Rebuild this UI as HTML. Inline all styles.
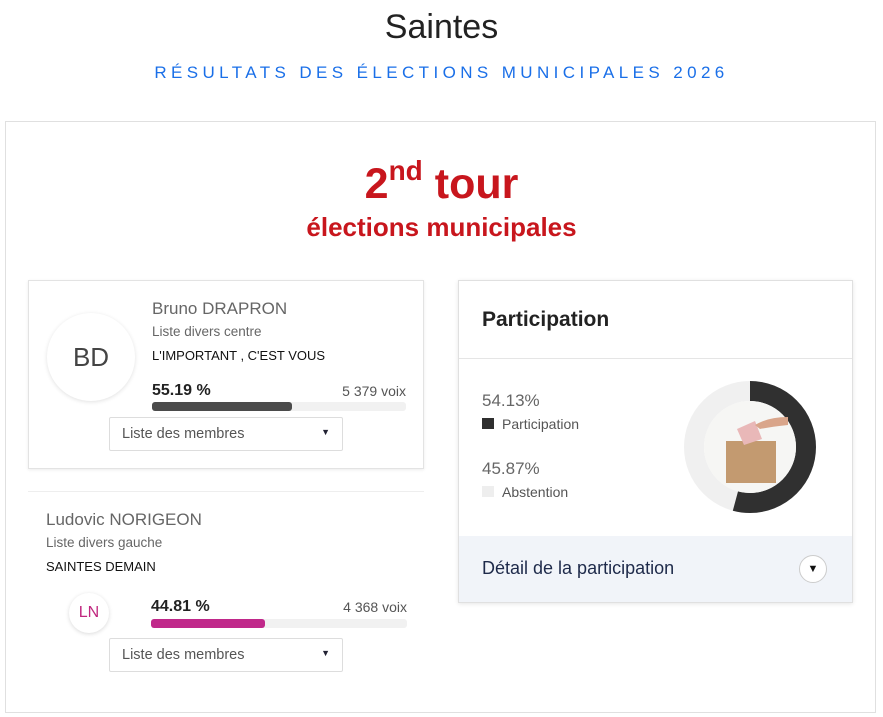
<!DOCTYPE html>
<html><head><meta charset="utf-8"><style>
*{box-sizing:border-box;margin:0;padding:0}
body{width:883px;height:717px;background:#fff;font-family:"Liberation Sans",sans-serif;position:relative;overflow:hidden;color:#222}
.a{position:absolute}
</style></head><body>
<div class="a" style="left:0;width:883px;top:8px;text-align:center;font-size:34px;color:#222">Saintes</div>
<div class="a" style="left:0;width:883px;top:63px;text-align:center;font-size:17px;letter-spacing:4.4px;color:#1a6fe8">RÉSULTATS DES ÉLECTIONS MUNICIPALES 2026</div>
<div class="a" style="left:5px;top:121px;width:871px;height:592px;border:1px solid #e0e0e0"></div>
<div class="a" style="left:0;width:883px;top:155px;text-align:center;color:#c8161d;font-size:43px;font-weight:bold">2<sup style="font-size:28px;vertical-align:18px">nd</sup> tour</div>
<div class="a" style="left:0;width:883px;top:212px;text-align:center;color:#c8161d;font-size:26px;font-weight:bold">élections municipales</div>

<div class="a" style="left:28px;top:280px;width:396px;height:189px;border:1px solid #e3e3e3;box-shadow:0 1px 3px rgba(0,0,0,.08)"></div>
<div class="a" style="left:47px;top:313px;width:88px;height:88px;border-radius:50%;box-shadow:0 1px 4px rgba(0,0,0,.12);text-align:center;line-height:88px;font-size:26px;color:#444">BD</div>
<div class="a" style="left:152px;top:299px;font-size:17px;color:#666">Bruno DRAPRON</div>
<div class="a" style="left:152px;top:324px;font-size:13.5px;color:#666">Liste divers centre</div>
<div class="a" style="left:152px;top:348px;font-size:13px;color:#111">L'IMPORTANT , C'EST VOUS</div>
<div class="a" style="left:152px;top:382px;font-size:16px;font-weight:bold;color:#222">55.19 %</div>
<div class="a" style="left:300px;top:383px;width:106px;text-align:right;font-size:14px;color:#555">5 379 voix</div>
<div class="a" style="left:152px;top:402px;width:254px;height:9px;background:#f1f1f1;border-radius:3px"><div style="width:140px;height:9px;background:#4b4b4b;border-radius:3px"></div></div>
<div class="a" style="left:109px;top:417px;width:234px;height:34px;border:1px solid #ddd;border-radius:2px;font-size:14.5px;color:#555;padding:8px 12px">Liste des membres<span style="position:absolute;right:12px;top:9px;font-size:9px;color:#223">▼</span></div>

<div class="a" style="left:28px;top:491px;width:396px;height:1px;background:#eee"></div>
<div class="a" style="left:46px;top:510px;font-size:17px;color:#666">Ludovic NORIGEON</div>
<div class="a" style="left:46px;top:535px;font-size:13.5px;color:#666">Liste divers gauche</div>
<div class="a" style="left:46px;top:559px;font-size:13px;color:#111">SAINTES DEMAIN</div>
<div class="a" style="left:69px;top:593px;width:40px;height:40px;border-radius:50%;box-shadow:0 1px 4px rgba(0,0,0,.15);text-align:center;line-height:40px;font-size:16px;color:#c0287f">LN</div>
<div class="a" style="left:151px;top:598px;font-size:16px;font-weight:bold;color:#222">44.81 %</div>
<div class="a" style="left:300px;top:599px;width:107px;text-align:right;font-size:14px;color:#555">4 368 voix</div>
<div class="a" style="left:151px;top:619px;width:256px;height:9px;background:#f1f1f1;border-radius:3px"><div style="width:114px;height:9px;background:#c0288a;border-radius:3px"></div></div>
<div class="a" style="left:109px;top:638px;width:234px;height:34px;border:1px solid #ddd;border-radius:2px;font-size:14.5px;color:#555;padding:8px 12px">Liste des membres<span style="position:absolute;right:12px;top:9px;font-size:9px;color:#223">▼</span></div>

<div class="a" style="left:458px;top:280px;width:395px;height:323px;border:1px solid #e0e0e0;box-shadow:0 1px 4px rgba(0,0,0,.1)"></div>
<div class="a" style="left:482px;top:308px;font-size:21px;font-weight:bold;color:#222">Participation</div>
<div class="a" style="left:459px;top:358px;width:393px;height:1px;background:#e5e5e5"></div>
<div class="a" style="left:482px;top:391px;font-size:17px;color:#666">54.13%</div>
<div class="a" style="left:482px;top:418px;width:12px;height:11px;background:#2f2f2f"></div>
<div class="a" style="left:502px;top:416px;font-size:14px;color:#555">Participation</div>
<div class="a" style="left:482px;top:459px;font-size:17px;color:#666">45.87%</div>
<div class="a" style="left:482px;top:486px;width:12px;height:11px;background:#eee"></div>
<div class="a" style="left:502px;top:484px;font-size:14px;color:#555">Abstention</div>
<svg class="a" style="left:680px;top:377px" width="140" height="140" viewBox="0 0 140 140">
<circle cx="70" cy="70" r="56" fill="none" stroke="#f0f0f0" stroke-width="20"/>
<circle cx="70" cy="70" r="56" fill="none" stroke="#303030" stroke-width="20" stroke-dasharray="190.5 400" transform="rotate(-90 70 70)"/>
<circle cx="70" cy="70" r="46" fill="#f6f6f4"/>
<rect x="46" y="64" width="50" height="42" fill="#c39a70"/>
<polygon points="57,52 75,44 82,62 64,68" fill="#e9b8b8"/>
<path d="M75,48 Q88,40 108,40 L108,48 Q90,50 80,52Z" fill="#d9a58a"/>
</svg>
<div class="a" style="left:459px;top:536px;width:393px;height:66px;background:#f1f4f9"></div>
<div class="a" style="left:482px;top:558px;font-size:18px;color:#1e2a4a">Détail de la participation</div>
<div class="a" style="left:799px;top:555px;width:28px;height:28px;border-radius:50%;background:#fff;border:1px solid #ccc;text-align:center;line-height:27px;font-size:11px;color:#111">▼</div>
</body></html>
